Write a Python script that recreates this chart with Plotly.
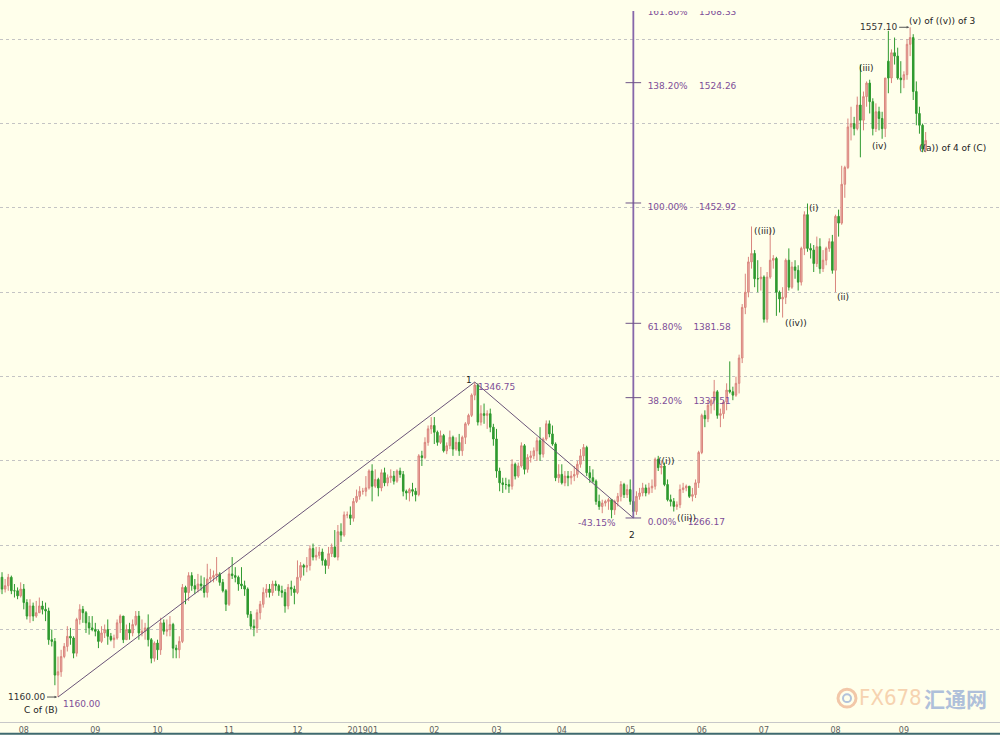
import numpy as np
import pandas as pd
import plotly.graph_objects as go

# ---------------- data (XAU daily) ----------------
dates = pd.bdate_range("2018-07-16", "2019-09-11")

opens = [
    # Jul 2018
    1241,1239,1227,1224,1222,1231,1224,1226,1231,1223,1223,1220,
    # Aug 2018
    1224,1216,1208,1214,1208,1210,1214,1212,1211,1194,1193,1173,1175,1184,1190,1196,1195,1186,1206,1212,1210,1204,1201,
    # Sep 2018
    1200,1199,1193,1198,1200,1196,1194,1195,1204,1208,1194,1200,1198,1203,1208,1198,1199,1201,1194,1183,
    # Oct 2018
    1192,1188,1204,1199,1200,1203,1189,1188,1193,1225,1222,1232,1226,1224,1227,1226,1222,1230,1231,1232,1233,1228,1223,
    # Nov 2018
    1215,1233,1232,1231,1227,1226,1224,1209,1202,1201,1210,1215,1222,1224,1222,1227,1226,1223,1222,1214,1225,1224,
    # Dec 2018
    1222,1231,1238,1237,1238,1248,1243,1244,1246,1241,1238,1245,1249,1243,1258,1256,1268,1268,1266,1276,1279,
    # Jan 2019
    1282,1282,1284,1294,1285,1289,1284,1293,1287,1290,1291,1288,1294,1292,1282,1281,1283,1282,1280,1303,1302,1311,1319,
    # Feb 2019
    1321,1317,1311,1315,1306,1309,1314,1307,1311,1306,1314,1322,1327,1339,1345,1323,1328,1327,1328,1320,
    # Mar 2019
    1313,1294,1287,1286,1286,1285,1298,1291,1297,1309,1295,1302,1303,1306,1312,1304,1313,1322,1316,1310,1290,
    # Apr 2019
    1292,1287,1291,1290,1291,1292,1298,1303,1308,1293,1290,1288,1276,1273,1275,1276,1277,1271,1276,1279,1286,1280,
    # May 2019
    1283,1276,1270,1279,1281,1284,1281,1284,1285,1301,1296,1297,1286,1277,1276,1273,1274,1283,1284,1285,1279,1280,1287,
    # Jun 2019
    1305,1327,1325,1333,1336,1341,1327,1328,1335,1342,1341,1339,1346,1361,1391,1400,1418,1423,1408,1408,
    # Jul 2019
    1409,1384,1409,1419,1420,1400,1396,1397,1419,1403,1415,1413,1406,1426,1446,1426,1425,1417,1427,1414,1419,1426,1430,
    # Aug 2019
    1413,1445,1441,1464,1474,1498,1500,1497,1511,1502,1516,1524,1513,1497,1507,1503,1497,1537,1527,1542,1540,1527,
    # Sep 2019
    1526,1529,1547,1551,1519,1506,1499,1485,
]
highs = [
    1244,1243,1229,1225,1233,1234,1230,1233,1232,1227,1225,1228,
    1227,1218,1218,1216,1217,1219,1217,1216,1213,1200,1195,1184,1188,1192,1202,1201,1196,1207,1215,1214,1211,1208,1208,
    1204,1200,1202,1203,1206,1198,1197,1206,1209,1208,1203,1204,1206,1211,1211,1206,1204,1209,1195,1193,
    1194,1207,1206,1206,1208,1204,1191,1196,1227,1226,1234,1234,1230,1233,1232,1231,1239,1236,1235,1243,1234,1230,1224,
    1237,1243,1237,1232,1237,1229,1225,1211,1206,1212,1217,1225,1227,1227,1229,1229,1227,1226,1224,1227,1229,1226,
    1241,1240,1239,1243,1250,1251,1249,1249,1248,1242,1249,1251,1259,1262,1263,1270,1270,1273,1278,1283,1285,
    1284,1291,1295,1298,1295,1290,1295,1296,1292,1295,1294,1295,1296,1294,1283,1284,1287,1284,1304,1306,1314,1321,1326,
    1326,1318,1318,1316,1311,1318,1315,1314,1316,1315,1323,1328,1340,1346.75,1346,1333,1334,1330,1331,1322,
    1319,1296,1290,1290,1289,1301,1299,1299,1311,1310,1304,1306,1308,1314,1320,1314,1324,1324,1321,1311,1298,
    1298,1294,1294,1294,1297,1300,1307,1310,1309,1297,1295,1289,1280,1277,1277,1278,1277,1277,1281,1288,1287,1286,
    1289,1277,1282,1284,1287,1286,1287,1289,1302,1303,1300,1299,1289,1280,1278,1276,1286,1287,1286,1285,1284,1289,1306,
    1328,1330,1336,1337,1348,1342,1331,1336,1346,1359,1344,1350,1363,1393,1411,1421,1439,1425,1419,1415,
    1410,1412,1438,1422,1421,1401,1403,1420,1426,1418,1419,1416,1427,1448,1452.6,1429,1428,1433,1432,1425,1427,1432,1434,
    1446,1449,1475,1475,1503,1510,1504,1516,1535,1519,1525,1526,1515,1512,1510,1507,1527,1555,1544,1551,1545,1537,
    1531,1550,1557.10,1553,1525,1510,1500,1495,
]
lows = [
    1237,1225,1217,1211,1220,1221,1222,1223,1221,1219,1218,1219,
    1212,1206,1204,1205,1207,1210,1209,1205,1191,1190,1167,1160.00,1172,1183,1187,1191,1183,1184,1203,1204,1198,1197,1199,
    1196,1189,1192,1195,1191,1193,1189,1194,1198,1192,1194,1194,1196,1202,1194,1196,1194,1190,1180,1181,
    1182,1185,1197,1196,1196,1183,1183,1183,1192,1215,1217,1223,1221,1222,1223,1219,1219,1228,1228,1229,1226,1222,1211,
    1214,1230,1228,1223,1224,1220,1207,1200,1196,1198,1206,1213,1219,1219,1220,1223,1220,1219,1210,1212,1220,1215,
    1221,1229,1232,1234,1235,1241,1241,1242,1238,1233,1236,1243,1243,1241,1252,1255,1266,1262,1264,1275,1277,
    1280,1279,1283,1276,1284,1279,1282,1285,1285,1287,1286,1287,1290,1279,1277,1276,1279,1276,1279,1297,1301,1309,1316,
    1310,1309,1310,1305,1304,1307,1303,1306,1303,1303,1310,1321,1326,1336,1321,1321,1322,1319,1317,1309,
    1290,1282,1281,1283,1281,1283,1289,1290,1296,1292,1293,1299,1301,1300,1300,1302,1312,1314,1309,1288,1287,
    1286,1285,1285,1286,1288,1290,1296,1300,1291,1287,1287,1274,1271,1269,1273,1271,1266,1268,1273,1276,1278,1278,
    1274,1266.17,1268,1277,1279,1279,1280,1281,1283,1294,1292,1285,1276,1273,1270,1271,1272,1281,1282,1278,1276,1278,1284,
    1304,1320,1323,1328,1330,1325,1320,1325,1330,1340,1336,1338,1340,1358,1387,1397,1414,1403,1400,1401,
    1382,1382,1408,1414,1386,1388,1385,1393,1401,1402,1408,1401,1404,1422,1424,1420,1412,1415,1411,1412,1416,1424,1411,
    1400,1433,1440,1456,1473,1490,1493,1496,1480,1496,1510,1506,1493,1495,1496,1491,1492,1518,1524,1535,1526,1518,
    1521,1526,1540,1514,1499,1494,1483,1483,
]
closes = [
    1239,1227,1224,1222,1231,1224,1226,1231,1223,1223,1220,1224,
    1216,1208,1214,1208,1210,1214,1212,1211,1194,1193,1173,1175,1184,1190,1196,1195,1186,1206,1212,1210,1204,1201,1200,
    1199,1193,1198,1200,1196,1194,1195,1204,1208,1194,1200,1198,1203,1208,1198,1199,1201,1194,1183,1192,
    1188,1204,1199,1200,1203,1189,1188,1193,1225,1222,1232,1226,1224,1227,1226,1222,1230,1231,1232,1233,1228,1223,1215,
    1233,1232,1231,1227,1226,1224,1209,1202,1201,1210,1215,1222,1224,1222,1227,1226,1223,1222,1214,1225,1224,1222,
    1231,1238,1237,1238,1248,1243,1244,1246,1241,1238,1245,1249,1243,1258,1256,1268,1268,1266,1276,1279,1282,
    1282,1284,1294,1285,1289,1284,1293,1287,1290,1291,1288,1294,1292,1282,1281,1283,1282,1280,1303,1302,1311,1319,1321,
    1317,1311,1315,1306,1309,1314,1307,1311,1306,1314,1322,1327,1339,1345,1323,1328,1327,1328,1320,1313,
    1294,1287,1286,1286,1285,1298,1291,1297,1309,1295,1302,1303,1306,1312,1304,1313,1322,1316,1310,1290,1292,
    1287,1291,1290,1291,1292,1298,1303,1308,1293,1290,1288,1276,1273,1275,1276,1277,1271,1276,1279,1286,1280,1283,
    1276,1270,1279,1281,1284,1281,1284,1285,1301,1296,1297,1286,1277,1276,1273,1274,1283,1284,1285,1279,1280,1287,1305,
    1327,1325,1333,1336,1341,1327,1328,1335,1342,1341,1339,1346,1361,1391,1400,1418,1423,1408,1408,1409,
    1384,1409,1419,1420,1400,1396,1397,1419,1403,1415,1413,1406,1426,1446,1426,1425,1417,1427,1414,1419,1426,1430,1413,
    1445,1441,1464,1474,1498,1500,1497,1511,1502,1516,1524,1513,1497,1507,1503,1497,1527,1527,1542,1540,1527,1526,
    1529,1547,1551,1519,1506,1499,1485,1490,
]

month_labels = ["08", "09", "10", "11", "12", "201901", "02", "03", "04", "05", "06", "07", "08", "09"]
grid_prices = [1200, 1250, 1300, 1350, 1400, 1450, 1500, 1550]

# Elliott wave pivots
pivot_dates = ["2018-08-16", "2019-02-20", "2019-05-02"]
pivot_prices = [1160.00, 1346.75, 1266.17]
fib_ratios = [0.0, 0.382, 0.618, 1.0, 1.382, 1.618]
fib_pct_labels = ["0.00%", "38.20%", "61.80%", "100.00%", "138.20%", "161.80%"]

n = len(dates)
assert len(opens) == len(highs) == len(lows) == len(closes) == n, (n, len(opens), len(highs), len(lows), len(closes))
xi = np.arange(n)


def idx(d):
    return int(dates.get_loc(pd.Timestamp(d)))


# month ticks: first trading day of each month (skip the partial first month)
per = dates.to_period("M")
tickvals = [i for i in range(1, n) if per[i] != per[i - 1]]

BG = "#FFFFEB"
PURPLE = "#7E4E98"
DARK = "#222222"
FONT = "DejaVu Sans"

fig = go.Figure()

fig.add_trace(go.Candlestick(
    x=xi, open=opens, high=highs, low=lows, close=closes,
    increasing=dict(line=dict(color="#D9857D", width=1), fillcolor="#EDB0A8"),
    decreasing=dict(line=dict(color="#2F9A2F", width=1), fillcolor="#2F9A2F"),
    whiskerwidth=0, hoverinfo="skip", showlegend=False,
))

# zigzag wave line
p_idx = [idx(d) for d in pivot_dates]
fig.add_trace(go.Scatter(x=p_idx, y=pivot_prices, mode="lines",
                         line=dict(color="#6A5478", width=1), hoverinfo="skip", showlegend=False))

# fibonacci projection
base = pivot_prices[2]
span = pivot_prices[1] - pivot_prices[0]
levels = [base + r * span for r in fib_ratios]
i2 = p_idx[2]
fig.add_trace(go.Scatter(x=[i2, i2], y=[levels[0], levels[-1] + 10], mode="lines",
                         line=dict(color="#8667AA", width=1.8), hoverinfo="skip", showlegend=False))
tx, ty = [], []
for lv in levels:
    tx += [i2 - 2.5, i2 + 2.5, None]
    ty += [lv, lv, None]
fig.add_trace(go.Scatter(x=tx, y=ty, mode="lines", line=dict(color="#6E5486", width=1),
                         hoverinfo="skip", showlegend=False))
fig.add_trace(go.Scatter(
    x=[i2 + 4.6] * len(levels), y=levels, mode="text",
    text=[f"{p}\u00a0\u00a0\u00a0\u00a0{lv:.2f}" for p, lv in zip(fib_pct_labels, levels)],
    textposition="bottom right", textfont=dict(family=FONT, size=9, color=PURPLE),
    cliponaxis=True, hoverinfo="skip", showlegend=False))

retr = (pivot_prices[1] - pivot_prices[2]) / span * 100

annos = []


def lab(text, d, price, xanchor="left", yanchor="middle", xs=0, ys=0, color=DARK):
    annos.append(dict(x=idx(d), y=price, text=text, showarrow=False, xanchor=xanchor,
                      yanchor=yanchor, xshift=xs, yshift=ys,
                      font=dict(family=FONT, size=9, color=color)))


def hi(d):
    return highs[idx(d)]


def lo(d):
    return lows[idx(d)]


lab("1", "2019-02-20", pivot_prices[1], "center", "middle", -6, 2)
lab(f"{pivot_prices[1]:.2f}", "2019-02-20", pivot_prices[1], "left", "middle", 1, -5, PURPLE)
lab("2", "2019-05-02", pivot_prices[2], "center", "middle", -1, -17)
lab(f"-{retr:.2f}%", "2019-05-02", pivot_prices[2], "right", "middle", -15, -5, PURPLE)
lab("((i))", "2019-05-13", hi("2019-05-13"), "left", "middle", 1, -3)
lab("((ii))", "2019-05-21", lo("2019-05-21"), "left", "middle", 1, -6)
lab("((iii))", "2019-06-25", hi("2019-06-25"), "left", "middle", 0, -5)
lab("((iv))", "2019-07-09", lo("2019-07-09"), "left", "middle", 0, -5)
lab("(i)", "2019-07-19", hi("2019-07-19"), "left", "middle", 0, -4)
lab("(ii)", "2019-08-01", lo("2019-08-01"), "left", "middle", 0, -5)
lab("(iii)", "2019-08-13", hi("2019-08-13"), "left", "middle", -3, -3)
lab("(iv)", "2019-08-19", lo("2019-08-19"), "left", "middle", -3, -11)
lab("(v) of ((v)) of 3", "2019-09-04", hi("2019-09-04"), "left", "middle", -3, 6)
lab("((a)) of 4 of (C)", "2019-09-10", lo("2019-09-10"), "left", "middle", -6, 4)
lab("C of (B)", "2018-08-16", pivot_prices[0], "right", "middle", 2, -13)
lab(f"{pivot_prices[0]:.2f}", "2018-08-16", pivot_prices[0], "left", "middle", 3, -7, PURPLE)

# price tags with arrows
for d, p in [("2018-08-16", pivot_prices[0]), ("2019-09-04", hi("2019-09-04"))]:
    annos.append(dict(x=idx(d), y=p, text=f"{p:.2f}", showarrow=True, ax=-11, ay=0,
                      xanchor="right", yanchor="middle", arrowhead=2, arrowsize=0.5,
                      arrowwidth=1, arrowcolor="#555555", standoff=1,
                      font=dict(family=FONT, size=9, color="#333333")))

# watermark
annos.append(dict(x=0.857, y=0.034, xref="paper", yref="paper", text="FX678", showarrow=False,
                  xanchor="left", yanchor="middle",
                  font=dict(family="DejaVu Sans Condensed, Liberation Sans", size=22, color="#F6D3B0")))
annos.append(dict(x=0.922, y=0.034, xref="paper", yref="paper", text="<b>汇通网</b>", showarrow=False,
                  xanchor="left", yanchor="middle",
                  font=dict(family="Noto Sans CJK SC", size=21, color="#AFC0DA")))

shapes = [
    dict(type="circle", xref="paper", yref="paper", x0=0.838, x1=0.856, y0=0.021, y1=0.046,
         line=dict(color="#F2C7A8", width=3)),
    dict(type="circle", xref="paper", yref="paper", x0=0.843, x1=0.851, y0=0.028, y1=0.039,
         line=dict(color="#B3C3DB", width=2)),
    dict(type="line", xref="paper", yref="paper", x0=0, x1=1, y0=-0.0165, y1=-0.0165,
         line=dict(color="#3F6A70", width=2)),
]

fig.update_layout(
    width=1000, height=735,
    margin=dict(l=0, r=0, t=11, b=13),
    paper_bgcolor=BG, plot_bgcolor=BG,
    annotations=annos, shapes=shapes,
    showlegend=False,
    xaxis=dict(range=[4.35, 325.9], rangeslider=dict(visible=False), showgrid=False,
               zeroline=False, tickmode="array", tickvals=tickvals, ticktext=month_labels,
               ticks="", tickfont=dict(family=FONT, size=8, color="#606060"),
               showline=True, linecolor="#C8C8C8", linewidth=1, automargin=False),
    yaxis=dict(range=[1145.2, 1566.75], tickmode="array", tickvals=grid_prices,
               showticklabels=False, showgrid=True, gridcolor="#C4C4C4", griddash="dot",
               gridwidth=1, zeroline=False, automargin=False),
)

fig.write_html("out.html", config={"displayModeBar": False, "staticPlot": True},
               post_script="document.body.style.margin='0';document.body.style.overflow='hidden';"
                           "document.body.style.background='" + BG + "';")
